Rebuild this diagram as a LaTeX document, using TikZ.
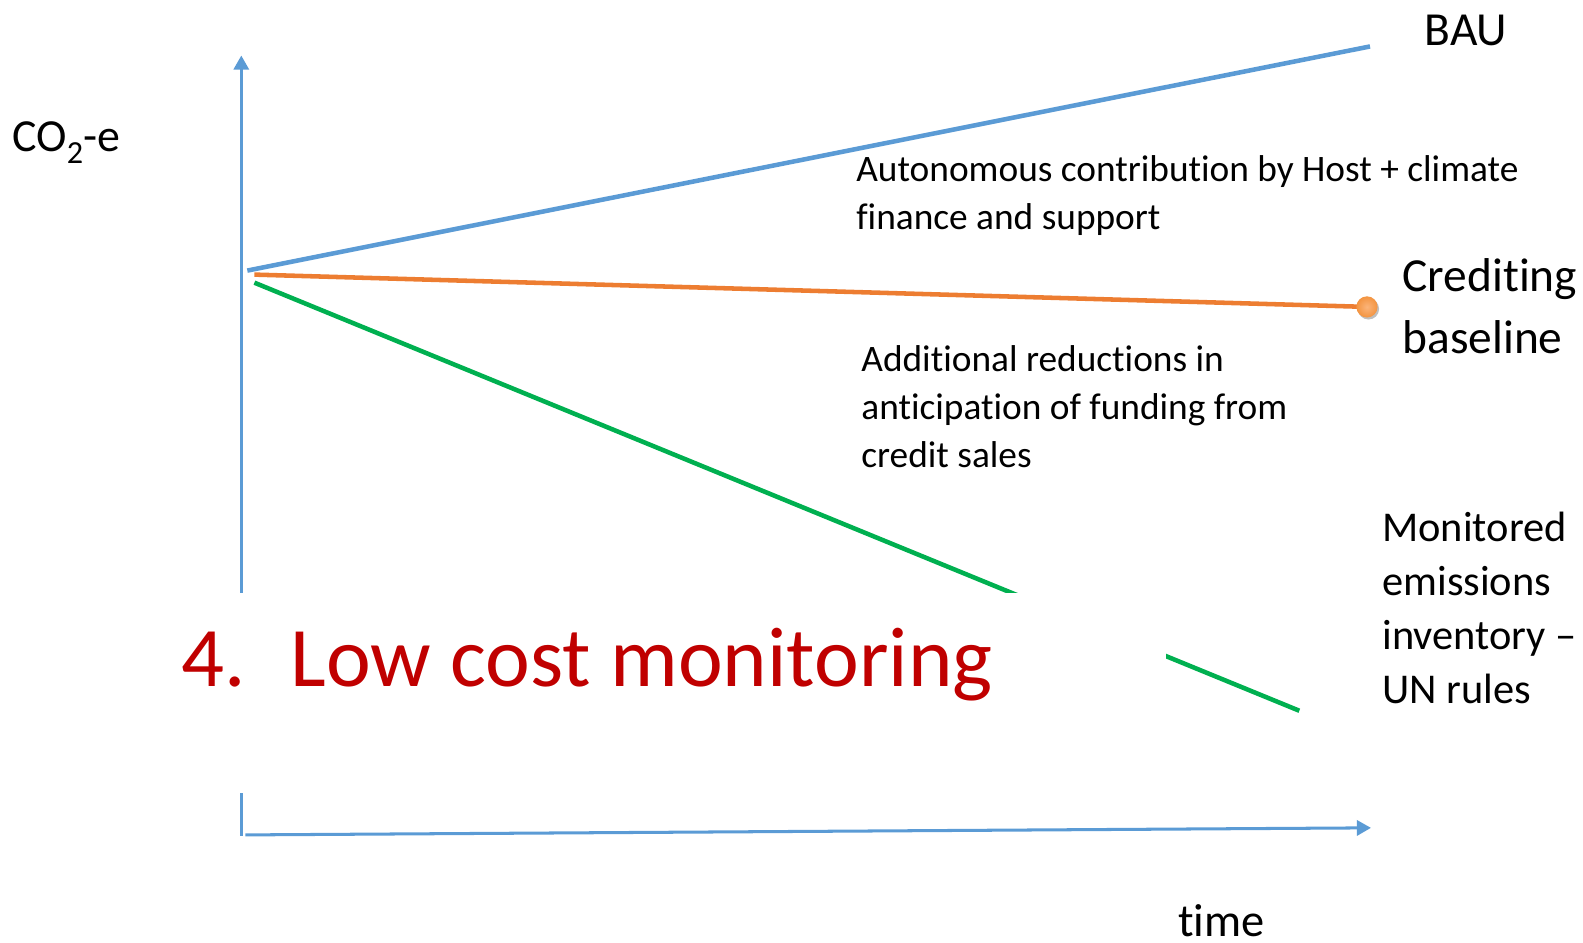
\documentclass[tikz,border=0pt]{standalone}
\usepackage{fontspec}
\setmainfont{Carlito}[Ligatures={NoCommon,NoContextual}]
\usetikzlibrary{arrows.meta,shadows}
% separate letter pairs so the font sets them as plain glyphs
\newcommand\tiPair{t\kern0pt i}
\newcommand\fiPair{f\kern0pt i}
\definecolor{axisblue}{HTML}{5B9BD5}
\definecolor{baseorange}{HTML}{ED7D31}
\definecolor{dotorange}{HTML}{F39440}
\definecolor{dotlight}{HTML}{FBB47A}
\definecolor{pathgreen}{HTML}{00B050}
\definecolor{titlered}{HTML}{C00000}
\tikzset{
  axis/.style={draw=axisblue, line width=3pt, -{Triangle[width=15pt,length=14pt]}},
  trend/.style={line width=4.5pt},
  lbl/.style={inner sep=0pt, anchor=base west, text=black},
  para/.style={inner sep=0pt, anchor=north west, align=left, text=black},
  enddot/.style={circle, minimum size=21pt, inner sep=0pt, draw=none,
      inner color=dotlight, outer color=dotorange},
}
\begin{document}
\begin{tikzpicture}[x=1pt,y=-1pt]
\useasboundingbox (0,0) rectangle (1568,934);

% axes
\coordinate (origin) at (239,828);
\coordinate (ytop) at (239,55);
\coordinate (xstart) at (243,827);
\coordinate (xend) at (1358,820);
\draw[axis] (origin) -- (ytop);
\draw[axis] (xstart) -- (xend);

% business-as-usual trend
\coordinate (bau0) at (245,268);
\coordinate (bau1) at (1357,46);
\draw[trend, axisblue] (bau0) -- (bau1);

% crediting baseline with end marker
\coordinate (cb0) at (252,272);
\coordinate (cbend) at (1354,304);
\fill[black, opacity=0.25] ([shift={(1.5,2)}]cbend) circle (10.5pt);
\draw[trend, baseorange] (cb0) -- (cbend);
\node[enddot] (cbdot) at (cbend) {};

% monitored emissions path
\coordinate (me0) at (252,280);
\coordinate (me1) at (1287,704);
\draw[trend, pathgreen] (me0) -- (me1);

% white panel carrying the heading
\fill[white] (170,587) rectangle (1155,785);
\node[lbl, text=titlered, font=\fontsize{84}{100}\selectfont] (heading) at (180,680)
  {\makebox[108pt][l]{4.}Low cost monitoring};

% labels
\node[lbl, font=\fontsize{47}{55}\selectfont] (bau) at (1411,45) {BAU};
\node[lbl, font=\fontsize{45.5}{52}\selectfont] (co2) at (12,150) {CO\textsubscript{2}-e};
\node[para, font=\fontsize{37}{47}\selectfont] (auto) at (848,{180-0.7*47})
  {\strut Autonomous contribu\tiPair on by Host + climate\\\fiPair nance and support};
\node[para, font=\fontsize{47}{61}\selectfont] (cred) at (1389,{289-0.7*61})
  {\strut Credi\tiPair ng\\baseline};
\node[para, font=\fontsize{37}{47.5}\selectfont] (addl) at (853,{368-0.7*47.5})
  {\strut Addi\tiPair onal reduc\tiPair ons in\\an\tiPair cipa\tiPair on of funding from\\credit sales};
\node[para, font=\fontsize{42}{53.5}\selectfont] (mon) at (1369,{536-0.7*53.5})
  {\strut Monitored\\emissions\\inventory –\\UN rules};
\node[lbl, font=\fontsize{46}{55}\selectfont] (time) at (1167,928) {\tiPair me};
\end{tikzpicture}
\end{document}
